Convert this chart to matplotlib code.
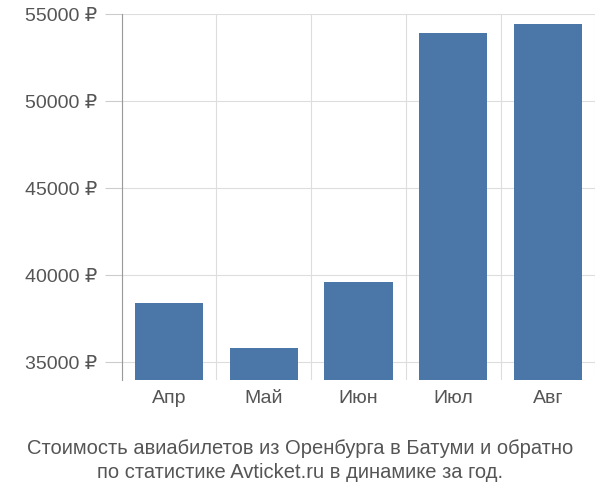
import matplotlib
matplotlib.use("Agg")
import matplotlib.pyplot as plt
import numpy as np

plt.rcParams['font.family'] = ['Liberation Sans', 'DejaVu Sans']

months = ["Апр", "Май", "Июн", "Июл", "Авг"]
prices = [38390, 35800, 39600, 53900, 54420]
yticks = [35000, 40000, 45000, 50000, 55000]
title = "Стоимость авиабилетов из Оренбурга в Батуми и обратно\nпо статистике Avticket.ru в динамике за год."

fig = plt.figure(figsize=(6, 5), dpi=100)
ax = fig.add_axes([0.203, 0.24, 0.789, 0.732])
x = np.arange(len(months))
ax.bar(x, prices, width=0.72, color="#4a76a8", zorder=3)
ax.set_xlim(-0.5, len(months) - 0.5)
ax.set_ylim(33970, 55000)
ax.set_yticks(yticks)
ax.set_yticklabels([f"{v} ₽" for v in yticks], fontsize=14, color="#555555")
ax.set_xticks(x)
ax.set_xticklabels(months, fontsize=14, color="#555555")
ax.set_xticks(np.arange(-0.5, len(months), 1), minor=True)
ax.tick_params(axis='x', which='both', length=0, pad=7)
ax.tick_params(axis='y', length=12, color="#cccccc", pad=6)
ax.grid(axis='y', color="#dddddd", zorder=0)
ax.grid(axis='x', which='minor', color="#dddddd", zorder=0)
for s in ['top', 'right', 'bottom']:
    ax.spines[s].set_visible(False)
ax.spines['left'].set_color("#999999")
fig.text(0.5, 0.079, title, ha='center', va='center', fontsize=14.5,
         color="#555555", linespacing=1.3)
fig.savefig("out.png", dpi=100)
